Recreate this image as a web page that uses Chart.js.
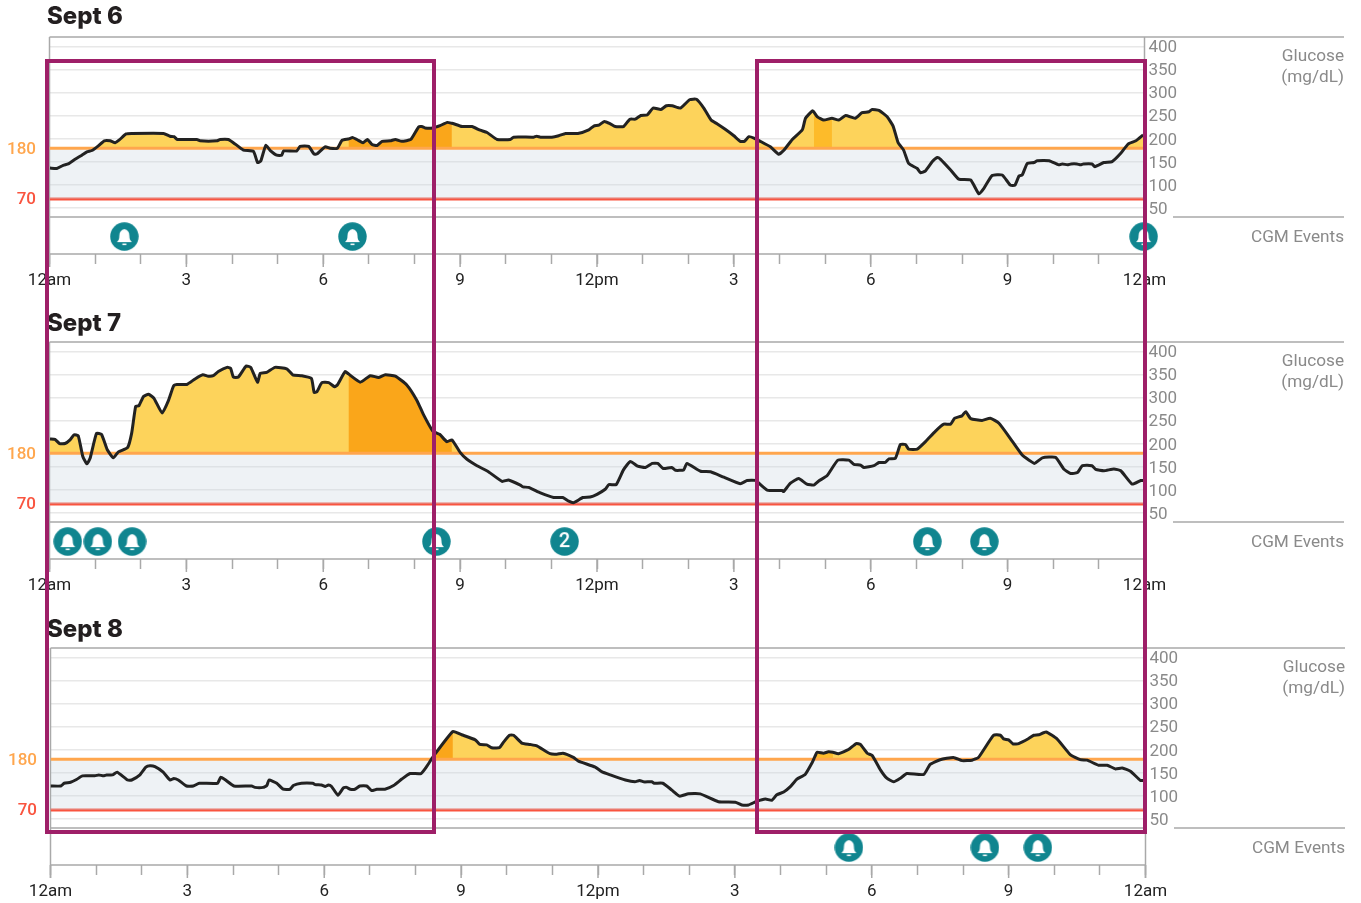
<!DOCTYPE html>
<html>
<head>
<meta charset="utf-8">
<title>CGM daily glucose</title>
<script src="https://cdn.jsdelivr.net/npm/chart.js@4"></script>
<style>
    html, body { margin: 0; padding: 0; background: #fff; width: 1361px; height: 903px; overflow: hidden; }
    canvas { position: absolute; }
    .day-title { position: absolute; left: 47px; font: 800 24px Inter, sans-serif; color: #231f20; line-height: 32px; z-index: 1; }
    .focus-box { position: absolute; top: 59px; height: 767px; border: 4px solid #9e1f68; z-index: 2; }
</style>
</head>
<body>
<div class="day-title" style="top:0">Sept 6</div>
<div class="day-title" style="top:307px">Sept 7</div>
<div class="day-title" style="top:613px">Sept 8</div>
<canvas id="sept6Chart" width="1361" height="292" style="left:0;top:0"></canvas>
<canvas id="sept7Chart" width="1361" height="292" style="left:0;top:305px"></canvas>
<canvas id="sept8Chart" width="1361" height="292" style="left:1px;top:611px"></canvas>
<div class="focus-box" style="left:45px;width:383px"></div>
<div class="focus-box" style="left:755px;width:384px"></div>
<script>
const glucoseTicks = [50, 100, 150, 200, 250, 300, 350, 400];
const hourLabels = { 0: '12am', 3: '3', 6: '6', 9: '9', 12: '12pm', 15: '3', 18: '6', 21: '9', 24: '12am' };
const highLimit = 180;
const lowLimit = 70;
const limitHours = [0, 24];
const darkHours = [6.55, 8.82];
const mediumHours = [16.75, 17.15];

const sept6Hours = [
    0.01, 0.16, 0.30, 0.41, 0.56, 0.71, 0.82, 0.93, 1.07, 1.20, 1.33, 1.44, 1.53, 1.68, 1.80, 2.50, 2.64, 2.73, 2.80, 3.23,
    3.30, 3.67, 3.74, 3.92, 4.03, 4.25, 4.47, 4.56, 4.63, 4.74, 4.84, 4.98, 5.09, 5.13, 5.42, 5.49, 5.68, 5.80, 5.87, 6.04,
    6.15, 6.31, 6.41, 6.55, 6.65, 6.77, 6.87, 6.97, 7.07, 7.18, 7.29, 7.47, 7.58, 7.72, 7.92, 8.09, 8.16, 8.23, 8.40, 8.56,
    8.72, 8.82, 8.86, 9.04, 9.26, 9.44, 9.59, 9.81, 10.10, 10.17, 10.61, 10.68, 10.76, 11.01, 11.16, 11.31, 11.58, 11.82, 11.93, 12.04,
    12.16, 12.29, 12.40, 12.58, 12.72, 12.84, 12.96, 13.10, 13.23, 13.40, 13.52, 13.65, 13.83, 14.03, 14.18, 14.34, 14.50, 14.63, 14.81, 15.00,
    15.14, 15.23, 15.33, 15.44, 15.58, 15.80, 15.98, 16.09, 16.28, 16.50, 16.57, 16.72, 16.75, 16.83, 16.97, 17.15, 17.30, 17.45, 17.66, 17.81,
    17.96, 18.03, 18.18, 18.36, 18.49, 18.60, 18.72, 18.83, 19.02, 19.09, 19.20, 19.35, 19.46, 19.53, 19.75, 19.93, 20.19, 20.37, 20.48, 20.66,
    20.88, 21.06, 21.16, 21.25, 21.32, 21.43, 21.58, 21.65, 21.91, 22.12, 22.20, 22.31, 22.39, 22.52, 22.60, 22.66, 22.85, 22.91, 23.11, 23.29,
    23.48, 23.64, 23.81, 23.97
];
const sept6Glucose = [
    137, 136, 143, 146, 156, 165, 172, 175, 185, 196, 196, 192, 198, 211, 212, 212, 206, 205, 199, 199,
    196, 196, 199, 199, 192, 176, 173, 149, 152, 186, 175, 165, 165, 174, 174, 184, 184, 167, 168, 183,
    180, 180, 197, 200, 203, 197, 192, 199, 188, 186, 195, 196, 199, 195, 199, 226, 227, 224, 224, 229,
    236, 234, 233, 227, 227, 219, 214, 199, 199, 204, 204, 206, 204, 204, 207, 212, 212, 220, 228, 230,
    238, 233, 227, 227, 243, 243, 251, 252, 267, 264, 272, 272, 267, 285, 286, 267, 241, 233, 221, 207,
    195, 195, 205, 202, 195, 183, 167, 175, 199, 220, 245, 261, 259, 248, 241, 245, 241, 251, 245, 257,
    259, 264, 262, 248, 228, 192, 176, 147, 136, 127, 131, 151, 160, 156, 133, 113, 111, 81, 93, 121,
    122, 100, 100, 120, 122, 147, 149, 153, 153, 144, 146, 144, 146, 146, 144, 146, 146, 140, 149, 151,
    169, 189, 196, 209
];
const sept6EventHours = [1.64, 6.64, 23.98];
const sept6EventCounts = [1, 1, 1];

const sept7Hours = [
    0.01, 0.12, 0.22, 0.34, 0.45, 0.54, 0.63, 0.73, 0.82, 0.89, 1.03, 1.14, 1.27, 1.40, 1.51, 1.71, 1.80, 1.89, 1.96, 2.06,
    2.17, 2.29, 2.47, 2.61, 2.72, 2.79, 3.01, 3.19, 3.36, 3.48, 3.59, 3.70, 3.89, 3.97, 4.03, 4.14, 4.31, 4.41, 4.56, 4.62,
    4.76, 4.94, 5.20, 5.33, 5.53, 5.74, 5.80, 5.86, 5.97, 6.12, 6.25, 6.31, 6.48, 6.55, 6.81, 7.03, 7.21, 7.36, 7.58, 7.83,
    8.05, 8.20, 8.40, 8.55, 8.71, 8.82, 9.00, 9.15, 9.37, 9.62, 9.92, 10.06, 10.32, 10.38, 10.50, 10.76, 11.05, 11.25, 11.38, 11.49,
    11.69, 11.85, 12.00, 12.18, 12.26, 12.42, 12.58, 12.73, 12.89, 13.06, 13.21, 13.33, 13.45, 13.64, 13.72, 13.90, 13.97, 14.27, 14.49, 14.78,
    15.14, 15.29, 15.47, 15.73, 16.06, 16.09, 16.24, 16.42, 16.60, 16.75, 16.86, 17.04, 17.28, 17.52, 17.63, 17.78, 17.85, 18.07, 18.18, 18.32,
    18.40, 18.54, 18.65, 18.76, 18.83, 19.02, 19.20, 19.42, 19.60, 19.75, 19.84, 20.00, 20.08, 20.19, 20.44, 20.62, 20.81, 21.03, 21.32, 21.47,
    21.59, 21.76, 22.05, 22.23, 22.38, 22.53, 22.64, 22.85, 22.93, 23.11, 23.33, 23.48, 23.73, 23.92, 23.97
];
const sept7Glucose = [
    211, 210, 201, 201, 209, 220, 218, 173, 157, 169, 223, 221, 187, 170, 183, 192, 223, 282, 283, 303,
    308, 299, 267, 295, 326, 329, 329, 341, 350, 347, 348, 357, 366, 364, 345, 345, 369, 366, 334, 353,
    355, 366, 363, 350, 348, 342, 312, 313, 333, 333, 324, 328, 357, 352, 334, 348, 344, 350, 347, 328,
    295, 263, 228, 221, 205, 209, 182, 167, 153, 140, 119, 122, 111, 107, 106, 94, 84, 84, 76, 73,
    84, 85, 91, 102, 112, 112, 144, 162, 152, 149, 158, 158, 147, 149, 143, 144, 158, 141, 140, 128,
    114, 121, 121, 100, 99, 97, 115, 125, 113, 111, 120, 131, 165, 165, 156, 154, 149, 153, 160, 160,
    168, 169, 199, 199, 189, 189, 205, 228, 243, 243, 256, 261, 270, 255, 251, 256, 245, 216, 176, 165,
    158, 170, 171, 146, 136, 138, 153, 153, 145, 142, 146, 142, 113, 121, 121
];
const sept7EventHours = [0.40, 1.06, 1.81, 8.48, 11.29, 19.24, 20.49];
const sept7EventCounts = [1, 1, 1, 1, 2, 1, 1];

const sept8Hours = [
    0.00, 0.23, 0.30, 0.44, 0.57, 0.70, 0.97, 1.06, 1.16, 1.23, 1.36, 1.46, 1.69, 1.78, 1.96, 2.09, 2.18, 2.29, 2.47, 2.62,
    2.70, 2.80, 2.98, 3.13, 3.26, 3.66, 3.73, 3.82, 4.02, 4.41, 4.48, 4.66, 4.74, 4.79, 4.96, 5.10, 5.25, 5.32, 5.50, 5.75,
    5.80, 5.94, 6.02, 6.09, 6.16, 6.30, 6.42, 6.49, 6.57, 6.67, 6.78, 6.93, 7.04, 7.15, 7.33, 7.52, 7.70, 7.88, 8.12, 8.25,
    8.39, 8.82, 9.01, 9.31, 9.41, 9.56, 9.67, 9.84, 9.93, 10.06, 10.15, 10.33, 10.51, 10.66, 10.95, 11.10, 11.23, 11.46, 11.57, 11.94,
    12.08, 12.27, 12.60, 12.81, 12.91, 13.00, 13.18, 13.23, 13.42, 13.62, 13.79, 13.98, 14.24, 14.64, 15.01, 15.15, 15.30, 15.48, 15.67, 15.81,
    15.92, 16.07, 16.21, 16.36, 16.54, 16.69, 16.75, 16.80, 16.94, 17.05, 17.15, 17.27, 17.49, 17.66, 17.75, 17.90, 18.01, 18.19, 18.33, 18.48,
    18.63, 18.77, 19.14, 19.28, 19.50, 19.79, 19.98, 20.20, 20.34, 20.67, 20.82, 20.89, 21.00, 21.10, 21.22, 21.44, 21.55, 21.66, 21.82, 22.06,
    22.35, 22.57, 22.72, 22.97, 23.16, 23.34, 23.49, 23.67, 23.89, 23.96
];
const sept8Glucose = [
    122, 122, 128, 130, 136, 144, 144, 146, 144, 146, 146, 152, 135, 135, 146, 163, 166, 164, 152, 135,
    138, 135, 122, 122, 128, 128, 141, 136, 122, 122, 119, 119, 123, 135, 128, 115, 115, 123, 128, 128,
    125, 124, 121, 124, 121, 102, 118, 119, 115, 115, 122, 122, 112, 115, 115, 123, 137, 149, 149, 165,
    186, 240, 233, 222, 212, 211, 205, 205, 217, 232, 232, 215, 212, 209, 192, 191, 193, 184, 176, 163,
    153, 146, 135, 131, 134, 131, 131, 128, 128, 113, 100, 105, 105, 88, 87, 81, 81, 89, 94, 91,
    103, 109, 120, 137, 147, 172, 185, 195, 193, 196, 195, 192, 201, 214, 212, 193, 188, 157, 139, 131,
    139, 149, 147, 169, 179, 184, 177, 178, 184, 232, 232, 224, 222, 213, 214, 225, 232, 233, 239, 224,
    190, 179, 178, 167, 167, 159, 161, 154, 134, 134
];
const sept8EventHours = [17.5, 20.48, 21.64];
const sept8EventCounts = [1, 1, 1];

const eventRow = 0.47;

function zipPoints(xs, ys) {
    return xs.map((x, i) => ({ x: x, y: ys[i] }));
}

// 29px teal badge used as the point style of the CGM events
function makeBadge(count) {
    const c = document.createElement('canvas');
    c.width = 29;
    c.height = 29;
    const g = c.getContext('2d');
    g.translate(14.5, 14.5);
    g.fillStyle = '#10858f';
    g.beginPath();
    g.arc(0, 0, 14.2, 0, Math.PI * 2);
    g.fill();
    g.fillStyle = '#fff';
    if (count > 1) {
        g.font = '500 20px Roboto';
        g.textAlign = 'center';
        g.textBaseline = 'middle';
        g.fillText(String(count), 0, 0.5);
        return c;
    }
    g.beginPath();
    g.moveTo(-7.5, 5.5);
    g.quadraticCurveTo(-5, 3.5, -5, -1);
    g.quadraticCurveTo(-5, -6.5, 0, -7.5);
    g.quadraticCurveTo(5, -6.5, 5, -1);
    g.quadraticCurveTo(5, 3.5, 7.5, 5.5);
    g.closePath();
    g.fill();
    g.fillRect(-2, 7, 4, 1.5);
    return c;
}
const bellBadge = makeBadge(1);
const twoBadge = makeBadge(2);

// frame lines, longer 3-hourly ticks and the side labels
const panelFrame = {
    id: 'panelFrame',
    beforeDatasetsDraw(chart) {
        const ctx = chart.ctx;
        const area = chart.chartArea;
        const x = chart.scales.x;
        const split = chart.scales.y.bottom;
        ctx.save();
        ctx.strokeStyle = '#a9a9a9';
        ctx.lineWidth = 1.5;
        const line = (x1, y1, x2, y2) => {
            ctx.beginPath();
            ctx.moveTo(x1, y1);
            ctx.lineTo(x2, y2);
            ctx.stroke();
        };
        line(area.left, area.top, 1344, area.top);
        line(area.left, split, area.right, split);
        line(1173, split, 1344, split);
        line(area.left, area.bottom, area.right, area.bottom);
        line(area.left, area.top, area.left, area.bottom + 13);
        line(area.right, area.top, area.right, area.bottom + 13);
        Object.keys(hourLabels).forEach(h => {
            const px = x.getPixelForValue(Number(h));
            line(px, area.bottom, px, area.bottom + 13);
        });
        ctx.restore();
    },
    afterDraw(chart) {
        const ctx = chart.ctx;
        const y = chart.scales.y;
        const ev = chart.scales.yEvents;
        ctx.save();
        ctx.textBaseline = 'middle';
        ctx.textAlign = 'right';
        ctx.font = '500 17px Roboto';
        ctx.fillStyle = '#ffa64d';
        ctx.fillText(String(highLimit), 36, y.getPixelForValue(highLimit) + 1.5);
        ctx.fillStyle = '#f9543f';
        ctx.fillText(String(lowLimit), 36, y.getPixelForValue(lowLimit) + 1);
        ctx.font = '17.2px Roboto';
        ctx.fillStyle = '#8a8a8a';
        ctx.fillText('Glucose', 1344, y.top + 20);
        ctx.fillText('(mg/dL)', 1344, y.top + 41);
        ctx.fillText('CGM Events', 1344, ev.getPixelForValue(eventRow) + 1);
        ctx.restore();
    }
};

function drawDay(canvasId, hours, glucose, eventHours, eventCounts) {
    const points = zipPoints(hours, glucose);
    const inRange = range => points.filter(p => p.x >= range[0] && p.x <= range[1]);
    const aboveFill = color => ({ target: { value: highLimit }, above: color, below: 'rgba(0,0,0,0)' });
    const flat = { pointRadius: 0, borderJoinStyle: 'round', tension: 0.15 };

    new Chart(document.getElementById(canvasId), {
        type: 'line',
        data: {
            datasets: [
                // glucose trace
                { ...flat, data: points, borderColor: '#222', borderWidth: 3, fill: false, order: 1 },
                // area above the high limit, with the two darker time windows
                { ...flat, data: inRange(darkHours), borderWidth: 0, fill: aboveFill('#faa61a'), order: 3 },
                { ...flat, data: inRange(mediumHours), borderWidth: 0, fill: aboveFill('#fdbb2a'), order: 3 },
                { ...flat, data: points, borderWidth: 0, fill: aboveFill('#fdd35b'), order: 4 },
                // limit lines, the high one also fills the target band
                {
                    ...flat,
                    data: limitHours.map(h => ({ x: h, y: highLimit })),
                    borderColor: '#ffa64d',
                    borderWidth: 3,
                    fill: { target: { value: lowLimit }, above: 'rgba(198,212,222,0.3)', below: 'rgba(0,0,0,0)' },
                    order: 2
                },
                {
                    ...flat,
                    data: limitHours.map(h => ({ x: h, y: lowLimit })),
                    borderColor: '#f9543f',
                    borderWidth: 3,
                    fill: false,
                    order: 2
                },
                // CGM events row
                {
                    data: eventHours.map(h => ({ x: h, y: eventRow })),
                    yAxisID: 'yEvents',
                    showLine: false,
                    clip: false,
                    order: 0,
                    pointRadius: 14,
                    pointStyle: ctx => (eventCounts[ctx.dataIndex] > 1 ? twoBadge : bellBadge)
                }
            ]
        },
        options: {
            responsive: false,
            animation: false,
            events: [],
            layout: { padding: { left: 49.5, top: 37, right: 0, bottom: 0 } },
            plugins: { legend: { display: false }, tooltip: { enabled: false } },
            scales: {
                x: {
                    type: 'linear',
                    min: 0,
                    max: 24,
                    border: { display: false },
                    grid: { drawOnChartArea: false, tickLength: 10, tickColor: '#a9a9a9', tickWidth: 1.5 },
                    afterFit: s => { s.height = 38; },
                    afterBuildTicks: s => { s.ticks = Array.from({ length: 25 }, (_, h) => ({ value: h })); },
                    ticks: {
                        autoSkip: false,
                        maxRotation: 0,
                        padding: 7,
                        color: '#222',
                        font: { family: 'Roboto', size: 17 },
                        callback: v => hourLabels[v] || ''
                    }
                },
                y: {
                    position: 'right',
                    stack: 'day',
                    stackWeight: 180,
                    min: 31,
                    max: 421,
                    border: { display: false },
                    grid: { color: '#e8e8e8', lineWidth: 1.5, drawTicks: false },
                    afterFit: s => { s.width = 216.5; },
                    afterBuildTicks: s => { s.ticks = glucoseTicks.map(v => ({ value: v })); },
                    ticks: {
                        autoSkip: false,
                        padding: 4,
                        color: '#8a8a8a',
                        // blank first line with a tight line height nudges the number down a little
                        font: { family: 'Roboto', size: 17, lineHeight: '2.5px' },
                        callback: v => ['', String(v)]
                    }
                },
                yEvents: {
                    position: 'right',
                    stack: 'day',
                    stackWeight: 37,
                    min: 0,
                    max: 1,
                    border: { display: false },
                    grid: { display: false },
                    afterFit: s => { s.width = 216.5; },
                    ticks: { display: false }
                }
            }
        },
        plugins: [panelFrame]
    });
}

drawDay('sept6Chart', sept6Hours, sept6Glucose, sept6EventHours, sept6EventCounts);
drawDay('sept7Chart', sept7Hours, sept7Glucose, sept7EventHours, sept7EventCounts);
drawDay('sept8Chart', sept8Hours, sept8Glucose, sept8EventHours, sept8EventCounts);
</script>
</body>
</html>
